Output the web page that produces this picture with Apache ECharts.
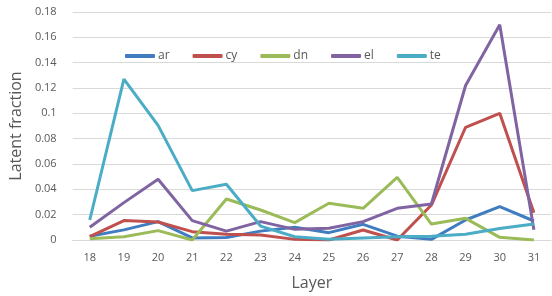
<!DOCTYPE html>
<html>
<head>
<meta charset="utf-8">
<script src="https://cdn.jsdelivr.net/npm/echarts@6/dist/echarts.min.js"></script>
<style>
html, body { margin: 0; padding: 0; background: #fff; }
#main { width: 552px; height: 296px; }
</style>
</head>
<body>
<div id="main"></div>
<script>
// layers on the x axis
var layers = ['18', '19', '20', '21', '22', '23', '24', '25', '26', '27', '28', '29', '30', '31'];
// latent fraction per layer
var ar = [0.003, 0.008, 0.0145, 0.0016, 0.002, 0.007, 0.010, 0.0058, 0.0124, 0.003, 0.0005, 0.0158, 0.0263, 0.015];
var cy = [0.0026, 0.0153, 0.0142, 0.0066, 0.0045, 0.004, 0.0005, 0.0, 0.0079, 0.0, 0.0276, 0.089, 0.100, 0.0216];
var dn = [0.001, 0.0026, 0.0074, 0.0, 0.0324, 0.0237, 0.0137, 0.029, 0.025, 0.0495, 0.0126, 0.0171, 0.0021, 0.0];
var el = [0.010, 0.0295, 0.048, 0.0153, 0.007, 0.0145, 0.0084, 0.0092, 0.0145, 0.025, 0.0284, 0.122, 0.170, 0.008];
var te = [0.0158, 0.127, 0.0905, 0.039, 0.044, 0.011, 0.0026, 0.0005, 0.0016, 0.0026, 0.003, 0.0045, 0.009, 0.0126];

var names = ['ar', 'cy', 'dn', 'el', 'te'];
var values = [ar, cy, dn, el, te];
var colors = ['#3f7dc0', '#c0504d', '#9bbb59', '#8064a2', '#4bacc6'];

var series = [];
for (var i = 0; i < names.length; i++) {
	series.push({
		name: names[i],
		type: 'line',
		data: values[i],
		symbol: 'none',
		lineStyle: { width: 3, color: colors[i] },
		itemStyle: { color: colors[i] }
	});
}

var myChart = echarts.init(document.getElementById('main'));
myChart.setOption({
	animation: false,
	textStyle: { fontFamily: 'Open Sans, sans-serif' },
	grid: { left: 71, right: 1, top: 12, bottom: 56 },
	legend: {
		data: names,
		left: 120,
		top: 45,
		icon: 'roundRect',
		itemWidth: 30,
		itemHeight: 4,
		itemGap: 23,
		textStyle: { color: '#595959', fontSize: 12, padding: [0, 0, 0, -2] }
	},
	xAxis: {
		type: 'category',
		data: layers,
		boundaryGap: true,
		name: 'Layer',
		nameLocation: 'middle',
		nameGap: 35,
		nameTextStyle: { color: '#595959', fontSize: 16 },
		axisLine: { lineStyle: { color: '#d9d9d9' } },
		axisTick: { show: false },
		axisLabel: { color: '#595959', fontSize: 11, margin: 12 }
	},
	yAxis: {
		type: 'value',
		min: 0,
		max: 0.18,
		interval: 0.02,
		name: 'Latent fraction',
		nameLocation: 'middle',
		nameGap: 43,
		nameTextStyle: { color: '#595959', fontSize: 16 },
		axisLine: { show: false },
		axisTick: { show: false },
		axisLabel: { color: '#595959', fontSize: 11, margin: 16 },
		splitLine: { lineStyle: { color: '#d9d9d9', width: 1 } }
	},
	series: series
});
</script>
</body>
</html>
